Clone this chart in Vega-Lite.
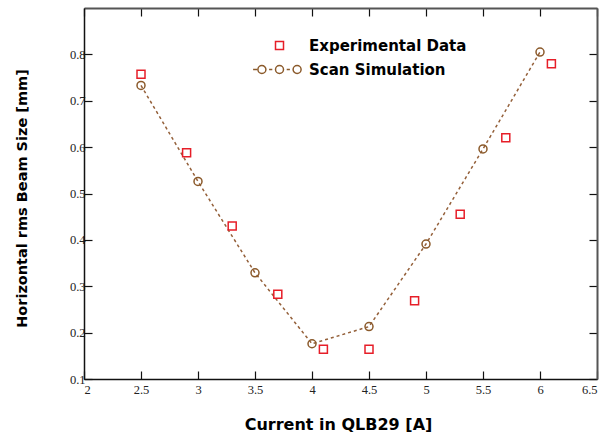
{
  "$schema": "https://vega.github.io/schema/vega-lite/v6.json",
  "autosize": {"type": "none"},
  "width": 513,
  "height": 371,
  "padding": {"left": 84, "top": 8, "right": 19, "bottom": 57},
  "background": "white",
  "config": {
    "view": {"stroke": null},
    "axis": {
      "grid": false,
      "labelFont": "Liberation Serif",
      "labelFontSize": 12.5,
      "labelColor": "#222",
      "titleFont": "DejaVu Sans",
      "titleFontSize": 15,
      "titleFontWeight": "bold",
      "titleColor": "#000",
      "domainColor": "#111",
      "domainWidth": 1.5,
      "tickColor": "#111",
      "tickWidth": 1.2,
      "tickSize": -8
    },
    "legend": {
      "labelFont": "DejaVu Sans",
      "labelFontSize": 15,
      "labelFontWeight": "bold",
      "labelColor": "#000"
    }
  },
  "data": {
    "values": [
      {"series": "Experimental Data", "current": 2.5, "size": 0.757},
      {"series": "Experimental Data", "current": 2.9, "size": 0.588},
      {"series": "Experimental Data", "current": 3.3, "size": 0.430},
      {"series": "Experimental Data", "current": 3.7, "size": 0.283},
      {"series": "Experimental Data", "current": 4.1, "size": 0.164},
      {"series": "Experimental Data", "current": 4.5, "size": 0.164},
      {"series": "Experimental Data", "current": 4.9, "size": 0.269},
      {"series": "Experimental Data", "current": 5.3, "size": 0.455},
      {"series": "Experimental Data", "current": 5.7, "size": 0.620},
      {"series": "Experimental Data", "current": 6.1, "size": 0.780},
      {"series": "Scan Simulation", "current": 2.5, "size": 0.733},
      {"series": "Scan Simulation", "current": 3.0, "size": 0.526},
      {"series": "Scan Simulation", "current": 3.5, "size": 0.329},
      {"series": "Scan Simulation", "current": 4.0, "size": 0.176},
      {"series": "Scan Simulation", "current": 4.5, "size": 0.213},
      {"series": "Scan Simulation", "current": 5.0, "size": 0.391},
      {"series": "Scan Simulation", "current": 5.5, "size": 0.596},
      {"series": "Scan Simulation", "current": 6.0, "size": 0.805}
    ]
  },
  "resolve": {"axis": {"x": "independent", "y": "independent"}},
  "layer": [
    {
      "transform": [{"filter": "datum.series === 'Scan Simulation'"}],
      "mark": {"type": "line", "color": "#94603a", "strokeWidth": 1.5, "strokeDash": [3, 3]},
      "encoding": {
        "x": {
          "field": "current", "type": "quantitative",
          "scale": {"domain": [2, 6.5], "nice": false, "zero": false},
          "axis": {
            "orient": "bottom",
            "title": "Current in QLB29 [A]",
            "titleFontSize": 16,
            "values": [2, 2.5, 3, 3.5, 4, 4.5, 5, 5.5, 6, 6.5],
            "format": "~g",
            "labelPadding": 12,
            "titleX": 254,
            "titleY": 45,
            "titleBaseline": "middle"
          }
        },
        "y": {
          "field": "size", "type": "quantitative",
          "scale": {"domain": [0.1, 0.9], "nice": false, "zero": false},
          "axis": {
            "orient": "left",
            "title": "Horizontal rms Beam Size [mm]",
            "titleFontSize": 14.5,
            "values": [0.1, 0.2, 0.3, 0.4, 0.5, 0.6, 0.7, 0.8],
            "format": ".1f",
            "labelPadding": 7,
            "titleX": -62,
            "titleY": 190,
            "titleAngle": 270,
            "titleAlign": "center",
            "titleBaseline": "middle"
          }
        }
      }
    },
    {
      "transform": [{"filter": "datum.series === 'Scan Simulation'"}],
      "mark": {"type": "point", "shape": "circle", "size": 64, "filled": false, "strokeWidth": 1.5, "opacity": 1, "color": "#8b5a2b"},
      "encoding": {
        "x": {
          "field": "current", "type": "quantitative",
          "scale": {"domain": [2, 6.5], "nice": false, "zero": false},
          "axis": {"orient": "top", "labels": false, "title": null, "values": [2, 2.5, 3, 3.5, 4, 4.5, 5, 5.5, 6, 6.5], "domainColor": "#555", "domainWidth": 2}
        },
        "y": {
          "field": "size", "type": "quantitative",
          "scale": {"domain": [0.1, 0.9], "nice": false, "zero": false},
          "axis": {"orient": "right", "labels": false, "title": null, "values": [0.1, 0.2, 0.3, 0.4, 0.5, 0.6, 0.7, 0.8], "domainColor": "#555", "domainWidth": 2}
        }
      }
    },
    {
      "transform": [{"filter": "datum.series === 'Experimental Data'"}],
      "mark": {"type": "point", "size": 64, "filled": false, "strokeWidth": 1.5, "opacity": 1},
      "encoding": {
        "x": {"field": "current", "type": "quantitative", "scale": {"domain": [2, 6.5], "nice": false, "zero": false}, "axis": null},
        "y": {"field": "size", "type": "quantitative", "scale": {"domain": [0.1, 0.9], "nice": false, "zero": false}, "axis": null},
        "stroke": {
          "field": "series", "type": "nominal",
          "scale": {"domain": ["Experimental Data", "Scan Simulation"], "range": ["#e61e28", "#8b5a2b"]},
          "legend": {
            "title": null,
            "orient": "none",
            "legendX": 188,
            "legendY": 30,
            "symbolSize": 64,
            "symbolStrokeWidth": 1.5,
            "labelOffset": 22,
            "rowPadding": 8
          }
        },
        "shape": {
          "field": "series", "type": "nominal",
          "scale": {
            "domain": ["Experimental Data", "Scan Simulation"],
            "range": ["square", "M-6.6,0L-5.6,0M-3.4,0A1,1 0 1,1 -5.4,0A1,1 0 1,1 -3.4,0M-2.6,0L-1.8,0M1,0A1,1 0 1,1 -1,0A1,1 0 1,1 1,0M1.8,0L2.6,0M5.4,0A1,1 0 1,1 3.4,0A1,1 0 1,1 5.4,0"]
          },
          "legend": {
            "title": null,
            "orient": "none",
            "legendX": 188,
            "legendY": 30,
            "symbolSize": 64,
            "symbolStrokeWidth": 1.5,
            "labelOffset": 22,
            "rowPadding": 8
          }
        }
      }
    }
  ]
}
